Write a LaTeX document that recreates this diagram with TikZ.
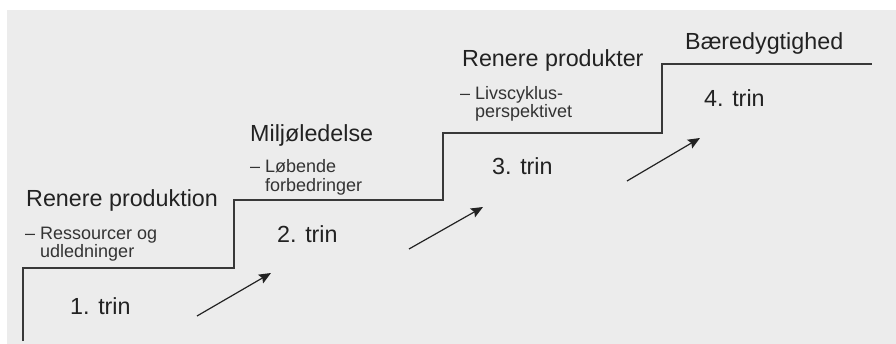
\documentclass[tikz,border=0pt]{standalone}
\usepackage{fontspec}
\setmainfont{Liberation Sans}
\usetikzlibrary{arrows.meta}
\definecolor{panel}{HTML}{ECECEC}
\definecolor{ink}{HTML}{222222}
\definecolor{subink}{HTML}{333333}
\begin{document}
\begin{tikzpicture}[x=1pt,y=-1pt,
  stage/.style={anchor=base west,inner sep=0pt,text=ink,font=\fontsize{23.3}{27}\selectfont},
  note/.style={anchor=base west,inner sep=0pt,text=subink,font=\fontsize{18}{21}\selectfont},
  stair/.style={draw=ink!90,line width=1.3pt,line join=miter},
  climb/.style={draw=ink,line width=1.2pt,-{Stealth[length=12pt,width=10pt,inset=2pt]}}]
  % canvas and grey panel
  \useasboundingbox (0,0) rectangle (896,344);
  \fill[panel] (7,10) rectangle (896,344);

  % corners of the staircase
  \coordinate (s0) at (23,341);
  \coordinate (s1) at (23,268);
  \coordinate (s2) at (234,268);
  \coordinate (s3) at (234,200);
  \coordinate (s4) at (443,200);
  \coordinate (s5) at (443,133);
  \coordinate (s6) at (662,133);
  \coordinate (s7) at (662,64);
  \coordinate (s8) at (872,64);
  \draw[stair] (s0) -- (s1) -- (s2) -- (s3) -- (s4) -- (s5) -- (s6) -- (s7) -- (s8);

  % step headings
  \node[stage] (h1) at (26,207) {Renere produktion};
  \node[stage] (h2) at (250,142) {Miljøledelse};
  \node[stage] (h3) at (462,67) {Renere produkter};
  \node[stage] (h4) at (685,50) {Bæredygtighed};

  % notes under the headings
  \node[note] (n1a) at (25,240) {– Ressourcer og};
  \node[note] (n1b) at (40,258) {udledninger};
  \node[note] (n2a) at (250,173) {– Løbende};
  \node[note] (n2b) at (265,191.5) {forbedringer};
  \node[note] (n3a) at (460,100) {– Livscyklus-};
  \node[note] (n3b) at (475,118) {perspektivet};

  % step numbers
  \node[stage] (t1) at (70,315) {1. trin};
  \node[stage] (t2) at (277,243) {2. trin};
  \node[stage] (t3) at (492,175) {3. trin};
  \node[stage] (t4) at (704,107) {4. trin};

  % arrows between the steps
  \coordinate (a1s) at (197,316); \coordinate (a1e) at (271,273);
  \coordinate (a2s) at (409,249); \coordinate (a2e) at (483,207);
  \coordinate (a3s) at (627,181); \coordinate (a3e) at (700,138);
  \draw[climb] (a1s) -- (a1e);
  \draw[climb] (a2s) -- (a2e);
  \draw[climb] (a3s) -- (a3e);
\end{tikzpicture}
\end{document}
